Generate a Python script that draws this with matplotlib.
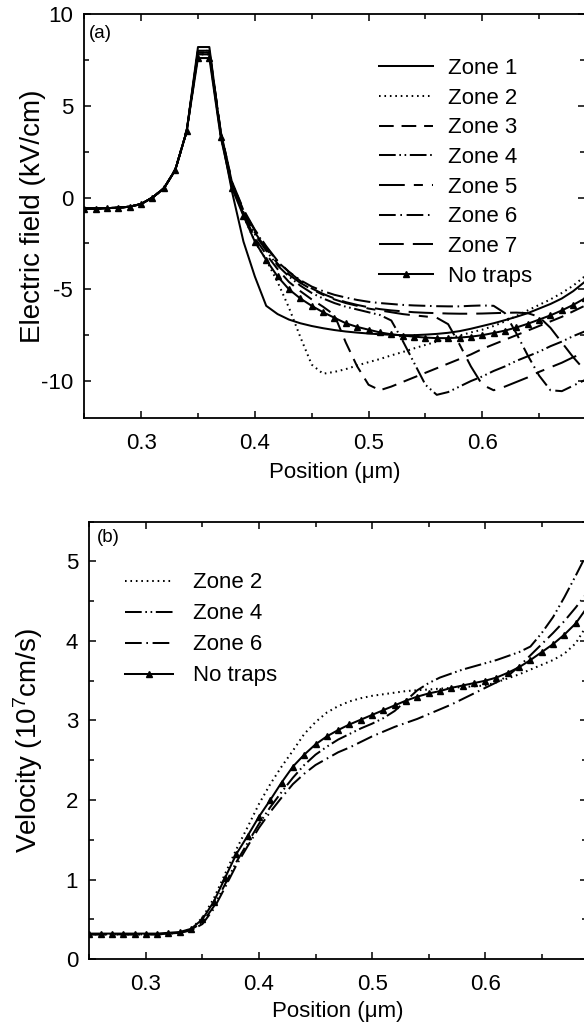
"""
Two-panel figure: electric field and electron velocity along the channel
for traps placed in different zones.
"""

import matplotlib
matplotlib.use("Agg")
import matplotlib.pyplot as plt
from matplotlib.ticker import MultipleLocator

# ---- data ---------------------------------------------------------------
position = [0.25, 0.26, 0.27, 0.28, 0.29, 0.30, 0.31, 0.32, 0.33, 0.34,
            0.35, 0.36, 0.37, 0.38, 0.39, 0.40, 0.41, 0.42, 0.43, 0.44,
            0.45, 0.46, 0.47, 0.48, 0.49, 0.50, 0.51, 0.52, 0.53, 0.54,
            0.55, 0.56, 0.57, 0.58, 0.59, 0.60, 0.61, 0.62, 0.63, 0.64,
            0.65, 0.66, 0.67, 0.68, 0.69]

# electric field (kV/cm)
field_no_traps = [-0.60, -0.60, -0.58, -0.55, -0.50, -0.35, 0.00, 0.50, 1.50, 3.60,
                  7.60, 7.60, 3.30, 0.50, -1.00, -2.40, -3.40, -4.30, -5.00, -5.50,
                  -5.90, -6.25, -6.55, -6.85, -7.05, -7.20, -7.35, -7.45, -7.52, -7.58,
                  -7.63, -7.66, -7.66, -7.63, -7.58, -7.50, -7.38, -7.25, -7.08, -6.88,
                  -6.65, -6.42, -6.15, -5.85, -5.50]
field_zone1 = [-0.60, -0.60, -0.58, -0.55, -0.50, -0.35, 0.00, 0.50, 1.50, 3.60,
               8.20, 8.20, 3.50, 0.30, -2.40, -4.30, -5.90, -6.35, -6.65, -6.85,
               -7.00, -7.12, -7.22, -7.30, -7.36, -7.41, -7.45, -7.48, -7.50, -7.50,
               -7.47, -7.43, -7.37, -7.28, -7.15, -7.00, -6.85, -6.68, -6.50, -6.30,
               -6.05, -5.80, -5.50, -5.10, -4.60]
field_zone2 = [-0.60, -0.60, -0.58, -0.55, -0.50, -0.35, 0.00, 0.50, 1.50, 3.60,
               7.80, 7.80, 3.40, 0.60, -1.00, -2.40, -3.40, -4.60, -6.00, -7.60,
               -9.10, -9.60, -9.50, -9.35, -9.15, -8.97, -8.80, -8.60, -8.42, -8.22,
               -8.03, -7.85, -7.68, -7.52, -7.35, -7.20, -7.00, -6.75, -6.45, -6.15,
               -5.85, -5.55, -5.20, -4.80, -4.30]
field_zone3 = [-0.60, -0.60, -0.58, -0.55, -0.50, -0.35, 0.00, 0.50, 1.50, 3.60,
               7.80, 7.80, 3.40, 0.60, -0.90, -2.20, -3.10, -3.90, -4.60, -5.10,
               -5.55, -5.95, -6.40, -7.90, -9.20, -10.20, -10.50, -10.30, -10.05, -9.80,
               -9.55, -9.30, -9.05, -8.80, -8.55, -8.25, -8.00, -7.75, -7.50, -7.25,
               -7.00, -6.75, -6.50, -6.20, -5.90]
field_zone4 = [-0.60, -0.60, -0.58, -0.55, -0.50, -0.35, 0.00, 0.50, 1.50, 3.60,
               7.90, 7.90, 3.50, 0.70, -0.80, -2.00, -2.90, -3.70, -4.30, -4.80,
               -5.20, -5.50, -5.75, -5.95, -6.10, -6.25, -6.40, -6.70, -7.80, -9.00,
               -10.20, -10.75, -10.60, -10.30, -10.00, -9.75, -9.45, -9.20, -8.90, -8.65,
               -8.40, -8.10, -7.85, -7.55, -7.30]
field_zone5 = [-0.60, -0.60, -0.58, -0.55, -0.50, -0.35, 0.00, 0.50, 1.50, 3.60,
               7.90, 7.90, 3.50, 0.75, -0.75, -1.90, -2.80, -3.60, -4.20, -4.65,
               -5.00, -5.30, -5.55, -5.75, -5.90, -6.05, -6.15, -6.25, -6.35, -6.42,
               -6.48, -6.55, -6.90, -8.00, -9.20, -10.20, -10.50, -10.30, -10.05, -9.80,
               -9.50, -9.25, -9.00, -8.70, -8.45]
field_zone6 = [-0.60, -0.60, -0.58, -0.55, -0.50, -0.35, 0.00, 0.50, 1.50, 3.60,
               8.00, 8.00, 3.60, 0.80, -0.70, -1.80, -2.70, -3.50, -4.05, -4.50,
               -4.85, -5.10, -5.30, -5.45, -5.58, -5.68, -5.75, -5.80, -5.85, -5.88,
               -5.90, -5.92, -5.93, -5.93, -5.90, -5.88, -5.90, -6.30, -7.40, -8.60,
               -9.70, -10.50, -10.55, -10.25, -9.95]
field_zone7 = [-0.60, -0.60, -0.58, -0.55, -0.50, -0.35, 0.00, 0.50, 1.50, 3.60,
               8.00, 8.00, 3.60, 0.85, -0.65, -1.75, -2.65, -3.45, -4.05, -4.55,
               -4.95, -5.25, -5.50, -5.70, -5.85, -5.98, -6.08, -6.15, -6.20, -6.25,
               -6.28, -6.30, -6.32, -6.33, -6.33, -6.32, -6.30, -6.28, -6.27, -6.30,
               -6.50, -7.10, -7.90, -8.70, -9.40]

# velocity (1e7 cm/s)
vel_no_traps = [0.32, 0.32, 0.32, 0.32, 0.32, 0.32, 0.32, 0.33, 0.34, 0.38,
                0.50, 0.72, 1.02, 1.32, 1.55, 1.79, 2.00, 2.22, 2.42, 2.57,
                2.70, 2.80, 2.88, 2.95, 3.01, 3.07, 3.13, 3.19, 3.25, 3.30,
                3.34, 3.37, 3.41, 3.44, 3.47, 3.50, 3.54, 3.60, 3.67, 3.76,
                3.86, 3.96, 4.08, 4.22, 4.42]
vel_zone2 = [0.31, 0.31, 0.31, 0.31, 0.31, 0.31, 0.31, 0.32, 0.33, 0.38,
             0.52, 0.76, 1.07, 1.38, 1.66, 1.95, 2.20, 2.42, 2.62, 2.83,
             2.98, 3.10, 3.18, 3.24, 3.28, 3.31, 3.33, 3.35, 3.37, 3.38,
             3.39, 3.40, 3.41, 3.42, 3.43, 3.44, 3.48, 3.53, 3.58, 3.64,
             3.70, 3.76, 3.84, 3.97, 4.20]
vel_zone4 = [0.31, 0.31, 0.31, 0.31, 0.31, 0.31, 0.31, 0.32, 0.33, 0.37,
             0.46, 0.66, 0.94, 1.22, 1.46, 1.70, 1.91, 2.10, 2.28, 2.44,
             2.57, 2.67, 2.76, 2.83, 2.90, 2.96, 3.03, 3.12, 3.25, 3.38,
             3.47, 3.54, 3.59, 3.64, 3.68, 3.72, 3.76, 3.81, 3.86, 3.93,
             4.10, 4.30, 4.55, 4.82, 5.10]
vel_zone6 = [0.31, 0.31, 0.31, 0.31, 0.31, 0.31, 0.31, 0.32, 0.33, 0.36,
             0.44, 0.63, 0.90, 1.18, 1.42, 1.65, 1.85, 2.03, 2.20, 2.33,
             2.44, 2.52, 2.60, 2.66, 2.73, 2.80, 2.86, 2.92, 2.97, 3.02,
             3.08, 3.14, 3.20, 3.27, 3.34, 3.41, 3.48, 3.56, 3.68, 3.82,
             3.96, 4.10, 4.25, 4.42, 4.60]

x_limits = (0.25, 0.69)
field_limits = (-12, 10)
vel_limits = (0, 5.5)

# line styles per zone
styles = {
    "Zone 1": "-",
    "Zone 2": (0, (0.8, 1.9)),
    "Zone 3": (0, (7.3, 3.9)),
    "Zone 4": (0, (8.3, 1.8, 0.8, 1.8, 0.8, 1.8)),
    "Zone 5": (0, (12.8, 4.5, 4.5, 4.5)),
    "Zone 6": (0, (8.3, 2.3, 0.8, 2.3)),
    "Zone 7": (0, (12.3, 4.5)),
}

LW = 1.45


def set_theme():
    plt.rcdefaults()
    plt.rcParams.update({
        "font.family": ["Liberation Sans", "DejaVu Sans"],
        "mathtext.fontset": "custom",
        "mathtext.rm": "Liberation Sans",
        "mathtext.it": "Liberation Sans:italic",
        "axes.unicode_minus": False,
        "axes.linewidth": 1.3,
        "xtick.direction": "in",
        "ytick.direction": "in",
        "xtick.top": True,
        "ytick.right": True,
        "xtick.major.size": 5,
        "ytick.major.size": 5,
        "xtick.minor.size": 3.5,
        "ytick.minor.size": 3.5,
        "xtick.major.width": 1.1,
        "ytick.major.width": 1.1,
        "xtick.minor.width": 1.1,
        "ytick.minor.width": 1.1,
        "xtick.labelsize": 16,
        "ytick.labelsize": 16,
        "xtick.major.pad": 11,
        "ytick.major.pad": 8,
    })


def style_axes(ax, ylim, ymajor, yminor, ylabel, tag, ylabel_x, xlabel_y, tag_xy):
    ax.set_xlim(*x_limits)
    ax.set_ylim(*ylim)
    ax.xaxis.set_major_locator(MultipleLocator(0.1))
    ax.xaxis.set_minor_locator(MultipleLocator(0.05))
    ax.yaxis.set_major_locator(MultipleLocator(ymajor))
    ax.yaxis.set_minor_locator(MultipleLocator(yminor))
    ax.tick_params(which="both", top=True, right=True)
    ax.set_xlabel("Position (\u03bcm)", fontsize=16)
    ax.xaxis.set_label_coords(0.5, xlabel_y)
    ax.set_ylabel(ylabel, fontsize=20)
    ax.yaxis.set_label_coords(ylabel_x, 0.5)
    ax.text(tag_xy[0], tag_xy[1], tag, transform=ax.transAxes, fontsize=13.5,
            ha="left", va="top")


set_theme()
fig = plt.figure(figsize=(5.84, 10.29), dpi=100)

# ---- (a) electric field ---------------------------------------------------
ax_a = fig.add_axes([0.1443, 0.594, 0.8567, 0.3924])
zone_fields = [field_zone1, field_zone2, field_zone3, field_zone4,
               field_zone5, field_zone6, field_zone7]
for i, values in enumerate(zone_fields):
    name = f"Zone {i + 1}"
    ax_a.plot(position, values, color="black", lw=LW, ls=styles[name], label=name)
ax_a.plot(position, field_no_traps, color="black", lw=LW, marker="^",
          markersize=5, label="No traps")
style_axes(ax_a, field_limits, 5, 2.5, "Electric field (kV/cm)", "(a)",
           -0.077, -0.11, (0.01, 0.972))
ax_a.legend(loc="upper left", bbox_to_anchor=(0.59, 0.891), frameon=False,
            fontsize=16, handlelength=2.4, handletextpad=0.68,
            labelspacing=0.39, borderpad=0, borderaxespad=0)

# ---- (b) velocity ---------------------------------------------------------
ax_b = fig.add_axes([0.1529, 0.068, 0.8522, 0.425])
ax_b.plot(position, vel_zone2, color="black", lw=LW, ls=styles["Zone 2"], label="Zone 2")
ax_b.plot(position, vel_zone4, color="black", lw=LW, ls=styles["Zone 4"], label="Zone 4")
ax_b.plot(position, vel_zone6, color="black", lw=LW, ls=styles["Zone 6"], label="Zone 6")
ax_b.plot(position, vel_no_traps, color="black", lw=LW, marker="^",
          markersize=5, label="No traps")
style_axes(ax_b, vel_limits, 1, 0.5, "Velocity (10$^7$cm/s)", "(b)",
           -0.089, -0.095, (0.016, 0.984))
ax_b.legend(loc="upper left", bbox_to_anchor=(0.072, 0.884), frameon=False,
            fontsize=16, handlelength=2.16, handletextpad=0.89,
            labelspacing=0.45, borderpad=0, borderaxespad=0)

fig.savefig("out.png", dpi=100)
